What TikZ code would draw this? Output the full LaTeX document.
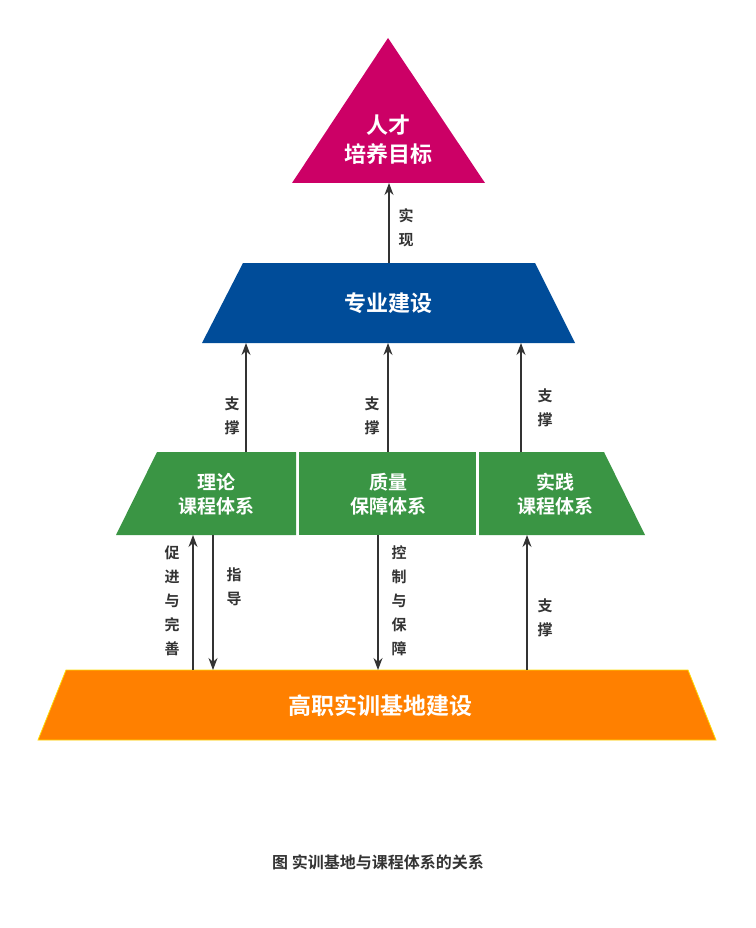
\documentclass[tikz,border=0pt]{standalone}
\usepackage{fontspec}
\setmainfont{Noto Sans CJK SC}[BoldFont={* Bold}]
\usetikzlibrary{arrows.meta}
\definecolor{cmag}{HTML}{CC0066}
\definecolor{cblue}{HTML}{004C99}
\definecolor{cgreen}{HTML}{3A9544}
\definecolor{corange}{HTML}{FF8000}
\definecolor{ctext}{HTML}{333333}
\begin{document}
\begin{tikzpicture}[x=1pt,y=-1pt,
  wt/.style={text=white,font=\bfseries\fontsize{19}{24}\selectfont,align=center},
  lb/.style={text=ctext,font=\bfseries\fontsize{15}{24}\selectfont,align=center},
  ar/.style={draw=ctext,line width=1.2pt,-{Stealth[length=12pt,width=9pt]}}]
\useasboundingbox (0,0) rectangle (755,928);
\fill[cmag] (388,38) -- (485,183) -- (292,183) -- cycle;
\node[wt,font=\bfseries\fontsize{22}{29}\selectfont] (t) at (388,140) {人才\\培养目标};
\fill[cblue] (243,263) -- (535,263) -- (575,343) -- (202,343) -- cycle;
\node[wt,font=\bfseries\fontsize{22}{26}\selectfont] (b) at (388,303) {专业建设};
\fill[cgreen] (157,452) -- (296,452) -- (296,535) -- (116,535) -- cycle;
\fill[cgreen] (299,452) rectangle (476,535);
\fill[cgreen] (479,452) -- (604,452) -- (645,535) -- (479,535) -- cycle;
\node[wt] (g1) at (216,494) {理论\\课程体系};
\node[wt] (g2) at (388,494) {质量\\保障体系};
\node[wt] (g3) at (555,494) {实践\\课程体系};
\fill[corange,draw=yellow!80!orange,line width=0.8pt] (66,670) -- (688,670) -- (716,740) -- (38,740) -- cycle;
\node[wt,font=\bfseries\fontsize{23}{26}\selectfont] (o) at (380,706) {高职实训基地建设};
\coordinate (a0s) at (389,263); \coordinate (a0e) at (389,183);
\draw[ar] (a0s) -- (a0e);
\node[lb] (l0) at (406,228) {实\\现};
\coordinate (a1s) at (246,452); \coordinate (a1e) at (246,343);
\coordinate (a2s) at (388,452); \coordinate (a2e) at (388,343);
\coordinate (a3s) at (521,452); \coordinate (a3e) at (521,343);
\draw[ar] (a1s) -- (a1e); \draw[ar] (a2s) -- (a2e); \draw[ar] (a3s) -- (a3e);
\node[lb] (l1) at (232,416) {支\\撑};
\node[lb] (l2) at (372,416) {支\\撑};
\node[lb] (l3) at (545,408) {支\\撑};
\coordinate (b1s) at (193,670); \coordinate (b1e) at (193,535);
\coordinate (b2s) at (213,535); \coordinate (b2e) at (213,670);
\coordinate (b3s) at (378,535); \coordinate (b3e) at (378,670);
\coordinate (b4s) at (527,670); \coordinate (b4e) at (527,535);
\draw[ar] (b1s) -- (b1e); \draw[ar] (b2s) -- (b2e); \draw[ar] (b3s) -- (b3e); \draw[ar] (b4s) -- (b4e);
\node[lb] (m1) at (172,601) {促\\进\\与\\完\\善};
\node[lb] (m2) at (234,587) {指\\导};
\node[lb] (m3) at (399,601) {控\\制\\与\\保\\障};
\node[lb] (m4) at (545,618) {支\\撑};
\node[text=ctext,font=\bfseries\fontsize{16}{18}\selectfont] (cap) at (378,862) {图 实训基地与课程体系的关系};
\end{tikzpicture}
\end{document}
